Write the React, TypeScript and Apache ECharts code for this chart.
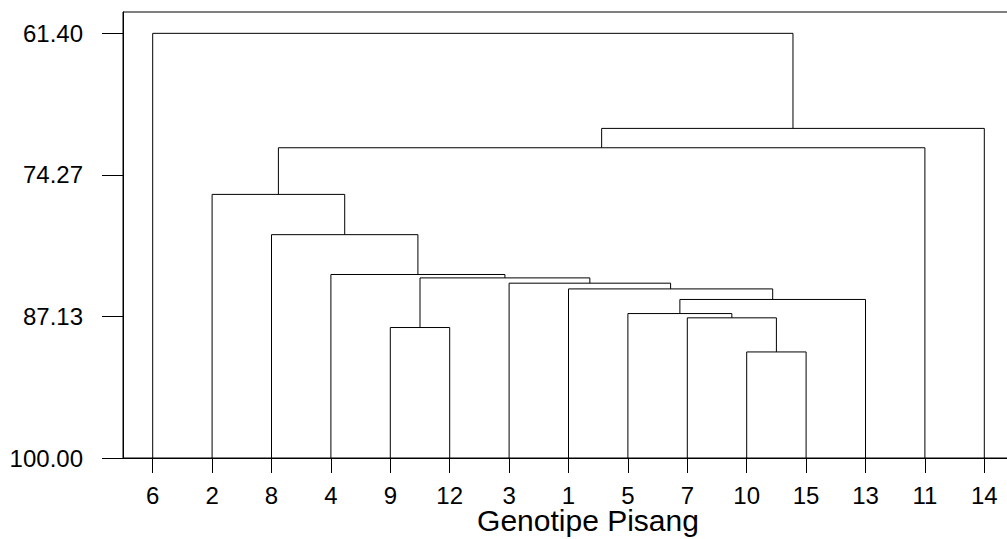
import React, { useEffect, useRef } from "react";
import * as echarts from "echarts";

// Leaf order along the x axis (genotypes)
const leaves = ["6", "2", "8", "4", "9", "12", "3", "1", "5", "7", "10", "15", "13", "11", "14"];

// Merges: cluster Ck (k = 1-based index) joins mergeA[k-1] and mergeB[k-1] at mergeLevel[k-1]
const mergeA = ["10", "7", "5", "C3", "1", "3", "9", "C7", "4", "8", "2", "C11", "C12", "6"];
const mergeB = ["15", "C1", "C2", "13", "C4", "C5", "12", "C6", "C8", "C9", "C10", "11", "14", "C13"];
const mergeLevel = [90.36, 87.26, 86.87, 85.59, 84.63, 84.11, 88.14, 83.63, 83.32, 79.7, 76.04, 71.8, 70.04, 61.4];

// Similarity axis tick values
const yTicks = [61.4, 74.2667, 87.1333, 100.0];
const yMin = 59.46;
const yMax = 100;
const leafLevel = 100;
const axisTitle = "Genotipe Pisang";

const FONT = "'Liberation Sans', Arial, Helvetica, sans-serif";

function buildSeries() {
  const pos: Record<string, { x: number; y: number }> = {};
  leaves.forEach((l, i) => {
    pos[l] = { x: i, y: leafLevel };
  });
  const series: any[] = [];
  mergeA.forEach((a, k) => {
    const b = mergeB[k];
    const h = mergeLevel[k];
    const pa = pos[a];
    const pb = pos[b];
    pos["C" + (k + 1)] = { x: (pa.x + pb.x) / 2, y: h };
    series.push({
      type: "line",
      xAxisIndex: 1,
      yAxisIndex: 0,
      symbol: "none",
      silent: true,
      lineStyle: { color: "#000", width: 1 },
      data: [
        [pa.x, pa.y],
        [pa.x, h],
        [pb.x, h],
        [pb.x, pb.y],
      ],
    });
  });
  return series;
}

export default function App() {
  const ref = useRef<HTMLDivElement>(null);
  useEffect(() => {
    if (!ref.current) return;
    const chart = echarts.init(ref.current, undefined, { renderer: "svg" });
    chart.setOption({
      animation: false,
      backgroundColor: "#fff",
      grid: {
        left: 123,
        top: 12,
        width: 891,
        height: 446,
        show: true,
        borderColor: "#000",
        borderWidth: 1,
        backgroundColor: "transparent",
      },
      xAxis: [
        {
          type: "category",
          position: "bottom",
          data: leaves,
          boundaryGap: true,
          axisLine: { show: true, onZero: false, lineStyle: { color: "#000", width: 1 } },
          axisTick: { show: true, alignWithLabel: true, length: 15, lineStyle: { color: "#000" } },
          axisLabel: {
            interval: 0,
            margin: 27,
            fontSize: 24,
            lineHeight: 20,
            color: "#000",
            fontFamily: FONT,
          },
          splitLine: { show: false },
        },
        {
          type: "value",
          min: -0.5,
          max: leaves.length - 0.5,
          show: false,
        },
      ],
      yAxis: [
        {
          type: "value",
          inverse: true,
          min: yMin,
          max: yMax,
          axisLine: { show: true, onZero: false, lineStyle: { color: "#000", width: 1 } },
          axisTick: {
            show: true,
            length: 21,
            customValues: yTicks,
            lineStyle: { color: "#000" },
          },
          axisLabel: {
            customValues: yTicks,
            margin: 40,
            fontSize: 24,
            color: "#000",
            fontFamily: FONT,
            formatter: (v: number) => v.toFixed(2),
          },
          splitLine: { show: false },
        },
      ],
      graphic: [
        {
          type: "text",
          x: 588,
          y: 520,
          style: {
            text: axisTitle,
            fontSize: 30,
            lineHeight: 22,
            fontFamily: FONT,
            fill: "#000",
            textAlign: "center",
            textVerticalAlign: "middle",
          },
        },
      ],
      series: buildSeries(),
    });
    return () => chart.dispose();
  }, []);
  return (
    <div style={{ position: "fixed", left: 0, top: 0, width: 1007, height: 539, overflow: "hidden", background: "#fff" }}>
      <div ref={ref} style={{ position: "absolute", left: 0, top: 0, width: 1030, height: 539 }} />
    </div>
  );
}
